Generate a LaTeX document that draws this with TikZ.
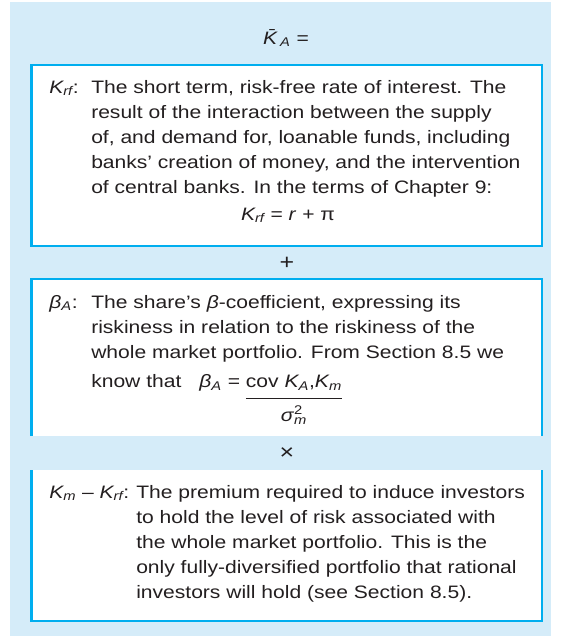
\documentclass[tikz,border=0pt]{standalone}
\usepackage{amsmath}
\usepackage{fontspec}
\setmainfont{Liberation Sans}[FakeStretch=1.17]
\usepackage{tikz}
\usetikzlibrary{positioning}
\definecolor{panelblue}{HTML}{D5ECF9}
\definecolor{rimblue}{HTML}{00AEEF}
\definecolor{inkgrey}{HTML}{231F20}
\newcommand{\Kv}[1]{\ensuremath{\textit{K}_{\textit{#1}}}}
\newcommand{\bodyfont}{\fontsize{13.5}{18.75}\selectfont}

\begin{document}
\begin{tikzpicture}[x=0.75pt,y=-0.75pt,
    rim/.style={draw=rimblue,line width=1.7pt},
    para/.style={anchor=north west,align=left,inner sep=0pt,font=\bodyfont,text=inkgrey},
    tag/.style={anchor=base west,inner sep=0pt,font=\bodyfont,text=inkgrey},
    op/.style={inner sep=0pt,font=\fontsize{16}{18}\selectfont,text=inkgrey}]
  \useasboundingbox (0,0) rectangle (561,636);
  \fill[panelblue] (10,2) rectangle (551,636);
  % the three sheets
  \fill[white] (31.5,65) rectangle (542,246);
  \draw[rim] (31.5,65) rectangle (542,246);
  \fill[white] (31.5,279) rectangle (542,436);
  \draw[rim] (31.5,436) -- (31.5,279) -- (542,279) -- (542,436);
  \fill[white] (31.5,470) rectangle (542,621);
  \draw[rim] (31.5,470) -- (31.5,621) -- (542,621) -- (542,470);
  \node[tag,anchor=base] (kbar) at (286,44) {\textit{\=K}\textsubscript{\textit{A}} =};
  % risk-free rate
  \node[tag] (krftag) at (49,93) {\Kv{rf}:};
  \node[para] (krftext) at (91,80.5) {The short term, risk-free rate of interest. The\\
    result of the interaction between the supply\\
    of, and demand for, loanable funds, including\\
    banks' creation of money, and the intervention\\
    of central banks. In the terms of Chapter 9:};
  \node[tag,anchor=base] (krfeq) at (288,220) {\Kv{rf} = \textit{r} + π};
  \node[op] (plus) at (287,263) {+};
  % beta
  \node[tag] (betatag) at (49,308) {\textit{β}\textsubscript{\textit{A}}:};
  \node[para] (betatext) at (91,295.5) {The share's \textit{β}-coefficient, expressing its\\
    riskiness in relation to the riskiness of the\\
    whole market portfolio. From Section 8.5 we\\
    know that\quad \textit{β}\textsubscript{\textit{A}} = {\renewcommand{\arraystretch}{1.35}%
      \begin{tabular}[t]{@{}c@{}}cov \Kv{A},\Kv{m}\\ \hline
        \textit{σ}\rlap{\textsuperscript{2}}\textsubscript{\textit{m}}\end{tabular}}};
  \node[op] (times) at (287,454) {×};
  % market premium
  \node[tag] (premtag) at (49,498) {\Kv{m} – \Kv{rf}:};
  \node[para] (premtext) at (136,485.5) {The premium required to induce investors\\
    to hold the level of risk associated with\\
    the whole market portfolio. This is the\\
    only fully-diversified portfolio that rational\\
    investors will hold (see Section 8.5).};
\end{tikzpicture}
\end{document}
